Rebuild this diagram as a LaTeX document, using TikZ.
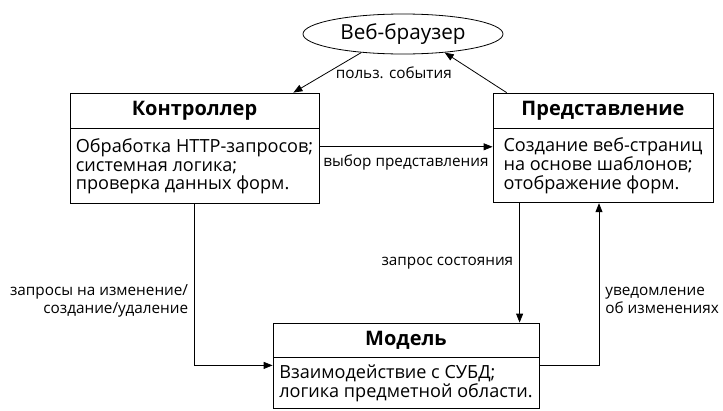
\documentclass[tikz,border=0pt]{standalone}
\usepackage{fontspec}
\setmainfont{Open Sans}
\usetikzlibrary{positioning,shapes.geometric,arrows.meta}

\tikzset{
  flow/.style={-{Triangle[length=9pt,width=7pt]}, line width=0.8pt},
  boxhead/.style={draw, line width=0.8pt, font=\fontsize{20}{22}\selectfont\bfseries, minimum height=35pt, inner sep=0pt},
  boxbody/.style={draw, line width=0.8pt, align=left, font=\fontsize{18.1}{18.6}\selectfont, inner sep=0pt},
  lbl/.style={font=\fontsize{15.3}{18.5}\selectfont, inner sep=2pt},
}

\begin{document}
\begin{tikzpicture}[x=1pt, y=-1pt]
\useasboundingbox (0,0) rectangle (723,410);

% browser on top
\node[draw, ellipse, line width=0.8pt, minimum width=200pt, minimum height=40pt, inner sep=0pt, font=\fontsize{20.7}{24}\selectfont] (web) at (403,34) {Веб-браузер};

% the three boxes: title row and body row
\node[boxhead, minimum width=249pt] (ctrl) at (194.5,110.5) {Контроллер};
\node[boxbody, minimum width=249pt, minimum height=75pt, below=0pt of ctrl] (ctrlbody) {Обработка HTTP-запросов;\\ системная логика;\\ проверка данных форм.};

\node[boxhead, minimum width=220pt] (view) at (603,110.5) {Представление};
\node[boxbody, minimum width=220pt, minimum height=74pt, below=0pt of view] (viewbody) {Создание веб-страниц\\ на основе шаблонов;\\ отображение форм.};

\node[boxhead, minimum width=266pt, minimum height=34pt] (model) at (406,340) {Модель};
\node[boxbody, minimum width=266pt, minimum height=51pt, below=0pt of model] (modelbody) {Взаимодействие с СУБД;\\ логика предметной области.};

% arrows
\draw[flow] (web.204) -- ([xshift=-26pt]ctrl.north east) node[lbl, midway, right=6pt] (evlbl) {польз. события};
\draw[flow] ([xshift=14pt]view.north west) -- (web.336);

\draw[flow] ([yshift=19.5pt]ctrlbody.east) -- ([yshift=19.5pt]ctrlbody.east -| viewbody.west) node[lbl, midway, below=6pt] (sellbl) {выбор представления};

\draw[flow] (ctrlbody.south) |- ([yshift=-8pt]modelbody.north west) node[lbl, pos=0.3, left=4pt, align=right] (reqlbl) {запросы на изменение/\\создание/удаление};

\draw[flow] ([yshift=-8pt]modelbody.north east) -| ([xshift=-4pt]viewbody.south) node[lbl, pos=0.7, right=4pt, align=left] (notelbl) {уведомление\\об изменениях};

\draw[flow] ([xshift=27pt]viewbody.south west) -- ([xshift=27pt]viewbody.south west |- model.north) node[lbl, midway, left=4pt] (statelbl) {запрос состояния};
\end{tikzpicture}
\end{document}
